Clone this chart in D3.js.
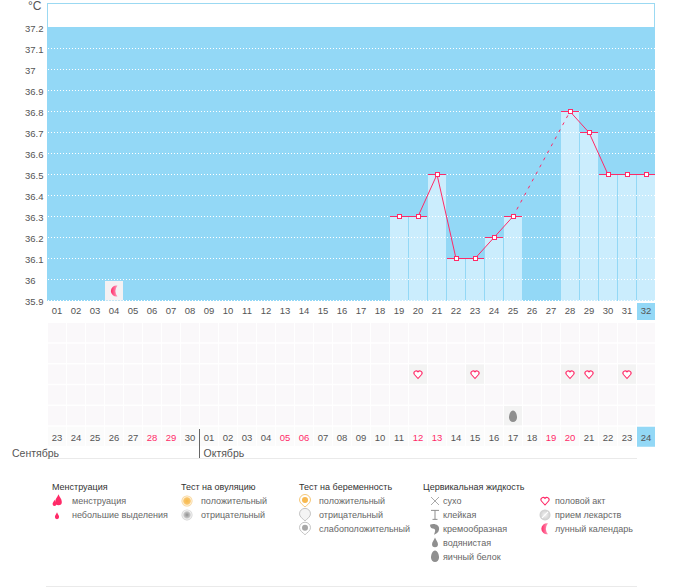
<!DOCTYPE html>
<html>
<head>
<meta charset="utf-8">
<script src="https://cdn.jsdelivr.net/npm/d3@7"></script>
<style>
  body { margin: 0; background: #fff; }
  text { font-family: "Liberation Sans", Arial, sans-serif; fill: #555; }
</style>
</head>
<body>
<script>
// chart data
var days = d3.range(1, 33);
var dayLabels = ["01","02","03","04","05","06","07","08","09","10","11","12","13","14","15","16","17","18","19","20","21","22","23","24","25","26","27","28","29","30","31","32"];
var dateLabels = ["23","24","25","26","27","28","29","30","01","02","03","04","05","06","07","08","09","10","11","12","13","14","15","16","17","18","19","20","21","22","23","24"];
var redDates = [6, 7, 13, 14, 20, 21, 27, 28];
var tempTicks = [37.2, 37.1, 37, 36.9, 36.8, 36.7, 36.6, 36.5, 36.4, 36.3, 36.2, 36.1, 36, 35.9];
var tempDays = [19, 20, 21, 22, 23, 24, 25, 28, 29, 30, 31, 32];
var tempValues = [36.3, 36.3, 36.5, 36.1, 36.1, 36.2, 36.3, 36.8, 36.7, 36.5, 36.5, 36.5];
var heartDays = [20, 23, 28, 29, 31];
var eggDays = [25];
var moonDays = [4];
var rows = [0, 1, 2, 3, 4, 5];

// legend
var legendTitles = ["Менструация", "Тест на овуляцию", "Тест на беременность", "Цервикальная жидкость"];
var legendTitleX = [52, 181, 299, 423];
var legendItems = [
  { label: "менструация", icon: "dropBig", col: 72, row: 0 },
  { label: "небольшие выделения", icon: "dropSmall", col: 72, row: 1 },
  { label: "положительный", icon: "ovuPos", col: 201, row: 0 },
  { label: "отрицательный", icon: "ovuNeg", col: 201, row: 1 },
  { label: "положительный", icon: "pregPos", col: 319, row: 0 },
  { label: "отрицательный", icon: "pregNeg", col: 319, row: 1 },
  { label: "слабоположительный", icon: "pregWeak", col: 319, row: 2 },
  { label: "сухо", icon: "dry", col: 443, row: 0 },
  { label: "клейкая", icon: "sticky", col: 443, row: 1 },
  { label: "кремообразная", icon: "creamy", col: 443, row: 2 },
  { label: "водянистая", icon: "watery", col: 443, row: 3 },
  { label: "яичный белок", icon: "egg", col: 443, row: 4 },
  { label: "половой акт", icon: "heart", col: 555, row: 0 },
  { label: "прием лекарств", icon: "pill", col: 555, row: 1 },
  { label: "лунный календарь", icon: "moon", col: 555, row: 2 }
];

var red = "#ff2a68", blue = "#93d8f6", barBlue = "#cbedfd", grey = "#8f8f8f";

var svg = d3.select("body").append("svg")
  .attr("width", 693)
  .attr("height", 587)
  .style("display", "block");

var defs = svg.append("defs");
function radial(id, stops) {
  var g = defs.append("radialGradient").attr("id", id);
  stops.forEach(function (s) {
    g.append("stop").attr("offset", s[0]).attr("stop-color", s[1]);
  });
}
radial("ovuPosFill", [["0%", "#f7b94a"], ["60%", "#f9c66e"], ["75%", "#fff3dc"], ["100%", "#f6cf8c"]]);
radial("ovuNegFill", [["0%", "#8f8f8f"], ["55%", "#c4c4c4"], ["75%", "#f2f2f2"], ["100%", "#cfcfcf"]]);
radial("pillFill", [["0%", "#f2f2f2"], ["100%", "#cdcdcd"]]);
var moonGrad = defs.append("linearGradient").attr("id", "moonFill");
moonGrad.append("stop").attr("offset", "0%").attr("stop-color", "#ff2a68");
moonGrad.append("stop").attr("offset", "100%").attr("stop-color", "#ff9dbb");

// scales
var x = d3.scaleBand().domain(days).range([48, 656]);
var y = d3.scaleLinear().domain([35.9, 37.2]).range([300.5, 27.5]);
var rowY = d3.scaleBand().domain(rows).range([323, 447.5]);
var cellW = x.bandwidth() - 1;
var cellH = rowY.bandwidth() - 1.5;
var temps = tempDays.map(function (d, i) { return { day: d, value: tempValues[i] }; });

// plot background
svg.append("rect").attr("x", 47.5).attr("y", 3.5).attr("width", 607).attr("height", 24)
  .attr("fill", "#fff").attr("stroke", "#9bd9f2");
svg.append("rect").attr("x", 47).attr("y", 27).attr("width", 608).attr("height", 274).attr("fill", blue);

// bars
svg.selectAll(".bar").data(temps).enter().append("rect")
  .attr("class", "bar")
  .attr("x", function (d) { return x(d.day); })
  .attr("y", function (d) { return y(d.value); })
  .attr("width", cellW)
  .attr("height", function (d) { return y(35.9) - y(d.value) + 0.5; })
  .attr("fill", barBlue);

// dotted grid
svg.selectAll(".grid").data(tempTicks.slice(1)).enter().append("line")
  .attr("class", "grid")
  .attr("x1", 48).attr("x2", 655)
  .attr("y1", function (d) { return y(d); })
  .attr("y2", function (d) { return y(d); })
  .attr("stroke", "#fff")
  .attr("stroke-dasharray", "1,2");

// temperature axis
var leftAxis = d3.axisLeft(y).tickValues(tempTicks).tickSize(0).tickFormat(function (d) { return String(d); });
var yAxis = svg.append("g").attr("transform", "translate(25,0)").call(leftAxis);
yAxis.select(".domain").remove();
yAxis.selectAll("text")
  .attr("x", 0).attr("dy", "0.45em")
  .attr("text-anchor", "start")
  .style("font-size", "9.5px").style("font-family", null);
svg.append("text").attr("x", 28).attr("y", 10).style("font-size", "12px").text("°C");

// icons, all centred on 0,0
var iconPaths = {
  drop: "M0,-6C1,-3 3.5,-1 3.5,2A3.5,3.5 0 0 1 -3.5,2C-3.5,-1 -1,-3 0,-6Z",
  heart: "M0,4L-3.6,0A2.2,2.2 0 0 1 0,-2.6A2.2,2.2 0 0 1 3.6,0Z",
  egg: "M0,-6C2.6,-6 4,-2 4,1A4,4.6 0 0 1 -4,1C-4,-2 -2.6,-6 0,-6Z",
  moon: "M3,-5.5A5.6,5.6 0 1 0 3,5.5A9,9 0 0 1 3,-5.5Z"
};
function drawIcon(g, name) {
  if (name === "dropBig") {
    g.append("path").attr("d", iconPaths.drop).attr("transform", "translate(1.5,-1) scale(0.95)").attr("fill", red);
    g.append("path").attr("d", iconPaths.drop).attr("transform", "translate(-2.5,2) scale(0.55)").attr("fill", red);
  } else if (name === "dropSmall") {
    g.append("path").attr("d", iconPaths.drop).attr("transform", "translate(0,1) scale(0.6)").attr("fill", red);
  } else if (name === "ovuPos" || name === "ovuNeg") {
    g.append("circle").attr("r", 5.5).attr("fill", "url(#" + name + "Fill)");
  } else if (name === "pregPos" || name === "pregNeg" || name === "pregWeak") {
    var c = name === "pregPos" ? "#f6c777" : "#c4c4c4";
    g.append("path").attr("d", "M-5.5,-1A5.5,5.5 0 0 1 5.5,-1C5.5,2 2,4 0,6C-2,4 -5.5,2 -5.5,-1Z")
      .attr("fill", name === "pregNeg" ? "#f4f4f4" : "#fff").attr("stroke", c);
    if (name !== "pregNeg") g.append("circle").attr("r", 3).attr("cy", -1)
      .attr("fill", name === "pregPos" ? "#f8b94f" : "#a8a8a8");
  } else if (name === "dry") {
    g.append("path").attr("d", "M-4,-4L4,4M4,-4L-4,4").attr("stroke", "#aaa").attr("fill", "none");
  } else if (name === "sticky") {
    g.append("path").attr("d", "M-4,-4.5H4M0,-4.5V4.5M-2.5,4.5H2.5").attr("stroke", grey).attr("fill", "none");
  } else if (name === "creamy") {
    g.append("path").attr("d", "M-5,-4C-1,-6 5,-4 4,1C3.5,4 1,5 -1,6C0,3 1,1 -1,0C-3,0 -5,-1 -5,-4Z").attr("fill", grey);
  } else if (name === "watery") {
    g.append("path").attr("d", iconPaths.drop).attr("transform", "scale(0.85)").attr("fill", grey);
  } else if (name === "egg") {
    g.append("path").attr("d", iconPaths.egg).attr("fill", grey);
  } else if (name === "heart") {
    g.append("path").attr("d", iconPaths.heart).attr("fill", "#fff").attr("stroke", red).attr("stroke-width", 1.1);
  } else if (name === "pill") {
    g.append("circle").attr("r", 5.5).attr("fill", "url(#pillFill)");
    g.append("path").attr("d", "M-3,3L3,-3").attr("stroke", "#fff").attr("stroke-width", 1.2);
  } else if (name === "moon") {
    g.append("path").attr("d", iconPaths.moon).attr("fill", "url(#moonFill)");
  }
}

// moon day inside the chart
moonDays.forEach(function (d) {
  svg.append("rect").attr("x", x(d)).attr("y", 281).attr("width", cellW).attr("height", 19.5).attr("fill", "#f4f1f3");
  var g = svg.append("g").attr("transform", "translate(" + (x(d) + 9.5) + ",291)");
  drawIcon(g, "moon");
});

// temperature lines, bar tops and markers
var line = d3.line()
  .x(function (d) { return x(d.day) + cellW / 2; })
  .y(function (d) { return y(d.value); });
var gapIndex = tempDays.indexOf(25);
svg.append("path").attr("d", line(temps.slice(0, gapIndex + 1)))
  .attr("fill", "none").attr("stroke", red).attr("stroke-width", 1);
svg.append("path").attr("d", line(temps.slice(gapIndex, gapIndex + 2)))
  .attr("fill", "none").attr("stroke", red).attr("stroke-dasharray", "3,5");
svg.append("path").attr("d", line(temps.slice(gapIndex + 1)))
  .attr("fill", "none").attr("stroke", red).attr("stroke-width", 1);
svg.selectAll(".top").data(temps).enter().append("line")
  .attr("class", "top")
  .attr("x1", function (d) { return x(d.day); })
  .attr("x2", function (d) { return x(d.day) + x.bandwidth() - 1; })
  .attr("y1", function (d) { return y(d.value); })
  .attr("y2", function (d) { return y(d.value); })
  .attr("stroke", red)
  .attr("shape-rendering", "crispEdges");
svg.selectAll(".marker").data(temps).enter().append("rect")
  .attr("class", "marker")
  .attr("x", function (d) { return Math.round(x(d.day) + cellW / 2) - 1.5; })
  .attr("y", function (d) { return y(d.value) - 2; })
  .attr("width", 4).attr("height", 4)
  .attr("fill", "#fff").attr("stroke", red)
  .attr("shape-rendering", "crispEdges");

// highlighted last day
svg.append("rect").attr("x", x(32)).attr("y", 303).attr("width", cellW).attr("height", 17).attr("fill", blue);

// day number axis
var topAxis = d3.axisBottom(x).tickSize(0).tickFormat(function (d) { return dayLabels[d - 1]; });
var dayAxis = svg.append("g").attr("transform", "translate(-0.5,307)").call(topAxis);
dayAxis.select(".domain").remove();
dayAxis.selectAll("text").attr("y", 0).attr("dy", "0.71em").style("font-size", "9.5px");

// calendar cells
rows.forEach(function (r) {
  svg.selectAll(".cell" + r).data(days).enter().append("rect")
    .attr("x", function (d) { return x(d); })
    .attr("y", rowY(r))
    .attr("width", cellW)
    .attr("height", cellH)
    .attr("fill", r === 5 ? "#fbfbfb" : "#faf8fa");
});
heartDays.forEach(function (d) {
  svg.append("rect").attr("x", x(d)).attr("y", rowY(2)).attr("width", cellW).attr("height", cellH).attr("fill", "#f3f3f3");
  drawIcon(svg.append("g").attr("transform", "translate(" + (x(d) + 9) + "," + (rowY(2) + 10) + ")"), "heart");
});
eggDays.forEach(function (d) {
  svg.append("rect").attr("x", x(d)).attr("y", rowY(4)).attr("width", cellW).attr("height", cellH).attr("fill", "#f3f3f3");
  drawIcon(svg.append("g").attr("transform", "translate(" + (x(d) + 9) + "," + (rowY(4) + 10.5) + ")"), "egg");
});
svg.append("rect").attr("x", x(32)).attr("y", rowY(5)).attr("width", cellW).attr("height", 20).attr("fill", blue);

// calendar date axis
var bottomAxis = d3.axisBottom(x).tickSize(0).tickFormat(function (d) { return dateLabels[d - 1]; });
var dateAxis = svg.append("g").attr("transform", "translate(-0.5,434)").call(bottomAxis);
dateAxis.select(".domain").remove();
dateAxis.selectAll("text").attr("y", 0).attr("dy", "0.71em")
  .style("font-size", "9.5px")
  .style("fill", function (d) { return redDates.indexOf(d) >= 0 ? red : "#555"; });

// months
svg.append("line").attr("x1", 199.5).attr("x2", 199.5).attr("y1", 429).attr("y2", 458).attr("stroke", "#666");
svg.append("line").attr("x1", 47).attr("x2", 637).attr("y1", 458.5).attr("y2", 458.5).attr("stroke", "#eaeaea");
svg.append("text").attr("x", 12).attr("y", 457).style("font-size", "10.5px").text("Сентябрь");
svg.append("text").attr("x", 203.5).attr("y", 457).style("font-size", "10.5px").text("Октябрь");

// legend
svg.selectAll(".legendTitle").data(legendTitles).enter().append("text")
  .attr("class", "legendTitle")
  .attr("x", function (d, i) { return legendTitleX[i]; })
  .attr("y", 490)
  .style("font-size", "9px")
  .style("fill", "#333")
  .text(function (d) { return d; });
var iconOffset = { 72: -15, 201: -14, 319: -14, 443: -8, 555: -10 };
var legendRow = d3.scaleLinear().domain([0, 4]).range([501, 556.5]);
legendItems.forEach(function (d) {
  svg.append("text").attr("x", d.col).attr("y", legendRow(d.row) + 3)
    .style("font-size", "9px").style("fill", "#666").text(d.label);
  var g = svg.append("g").attr("transform", "translate(" + (d.col + iconOffset[d.col]) + "," + legendRow(d.row) + ")");
  drawIcon(g, d.icon);
});
svg.append("line").attr("x1", 46).attr("x2", 637).attr("y1", 586.5).attr("y2", 586.5).attr("stroke", "#eaeaea");
</script>
</body>
</html>
